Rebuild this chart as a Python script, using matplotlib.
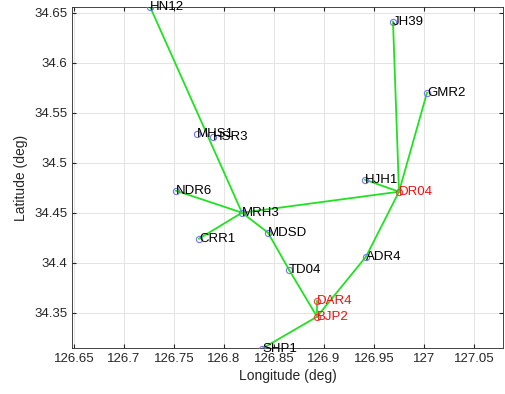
import numpy as np
import matplotlib
matplotlib.use("Agg")
import matplotlib.pyplot as plt

plt.rcParams['font.family'] = ['Liberation Sans', 'DejaVu Sans']

# station names and coordinates (deg)
names = ['HN12', 'MHS1', 'HSR3', 'NDR6', 'MRH3', 'CRR1', 'MDSD', 'TD04',
         'JH39', 'GMR2', 'HJH1', 'DR04', 'ADR4', 'DAR4', 'BJP2', 'SHP1']
lon = [126.726, 126.773, 126.789, 126.752, 126.818, 126.775, 126.844, 126.865,
       126.969, 127.003, 126.941, 126.975, 126.942, 126.893, 126.893, 126.838]
lat = [34.656, 34.529, 34.526, 34.472, 34.450, 34.424, 34.430, 34.393,
       34.641, 34.570, 34.483, 34.471, 34.406, 34.362, 34.346, 34.314]
red_nodes = ['DR04', 'DAR4', 'BJP2']

# links between stations
links = [('HN12', 'MRH3'), ('NDR6', 'MRH3'), ('CRR1', 'MRH3'), ('MRH3', 'DR04'),
         ('MRH3', 'MDSD'), ('MDSD', 'TD04'), ('TD04', 'BJP2'), ('BJP2', 'SHP1'),
         ('BJP2', 'DAR4'), ('BJP2', 'ADR4'), ('ADR4', 'DR04'), ('DR04', 'HJH1'),
         ('DR04', 'JH39'), ('DR04', 'GMR2')]

pos = {n: (x, y) for n, x, y in zip(names, lon, lat)}

fig = plt.figure(figsize=(5.05, 3.94), dpi=100)
ax = fig.add_axes([72/505, 1 - 348/394, 431/505, 341/394])

for a, b in links:
    ax.plot([pos[a][0], pos[b][0]], [pos[a][1], pos[b][1]], color='#22e022', lw=1.3, zorder=2)

for n in names:
    x, y = pos[n]
    red = n in red_nodes
    ax.plot(x, y, 'o', ms=4.5, mfc='none', mew=0.8,
            mec='#ee4444' if red else '#7777ee', zorder=3)
    ax.text(x, y, n, ha='left', va='center', fontsize=9.5,
            color='#ee1111' if red else 'black', zorder=4)

ax.set_xlim(126.648, 127.079)
ax.set_ylim(34.3147, 34.6557)
ax.set_xticks([126.65, 126.7, 126.75, 126.8, 126.85, 126.9, 126.95, 127, 127.05])
ax.set_xticklabels(['126.65', '126.7', '126.75', '126.8', '126.85', '126.9', '126.95', '127', '127.05'])
ax.set_yticks([34.35, 34.4, 34.45, 34.5, 34.55, 34.6, 34.65])
ax.set_yticklabels(['34.35', '34.4', '34.45', '34.5', '34.55', '34.6', '34.65'])
ax.grid(True, color='#e4e4e4', lw=0.7, zorder=0)
ax.set_axisbelow(True)
ax.tick_params(direction='in', length=3, labelsize=9.5, colors='#262626',
               top=True, right=True, labeltop=False, labelright=False)
for s in ax.spines.values():
    s.set_color('#262626')
    s.set_linewidth(0.6)
ax.set_xlabel('Longitude (deg)', fontsize=10, color='#262626', labelpad=3)
ax.set_ylabel('Latitude (deg)', fontsize=10, color='#262626', labelpad=4)

fig.savefig('out.png', dpi=100)
